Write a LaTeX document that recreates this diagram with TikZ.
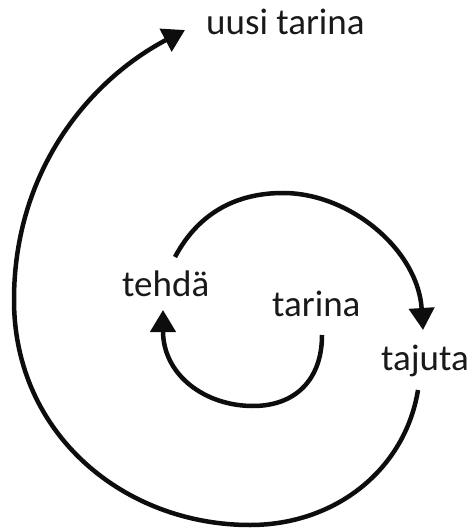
\documentclass[tikz,border=0pt]{standalone}
\usepackage{fontspec}
\setmainfont{Carlito}
\usetikzlibrary{arrows.meta}

\begin{document}
\begin{tikzpicture}[
  x=1pt, y=-1pt,
  word/.style={inner sep=0pt, anchor=base west, text=black!90,
               font=\fontsize{37}{40}\selectfont},
  loop/.style={line width=4.5pt, black!95,
               -{Triangle[length=22pt,width=25pt]}},
]
\useasboundingbox (0,0) rectangle (470,529);

% ---- sanat ----
\node[word] (uusi)   at (206,35)  {uusi tarina};
\node[word] (tehda)  at (122,296) {tehdä};
\node[word] (tarina) at (272,316) {tarina};
\node[word] (tajuta) at (381,370) {tajuta};

% ---- kaarien päät ----
\coordinate (tarina-out) at (322,335);
\coordinate (tehda-in)   at (163,310);
\coordinate (tehda-out)  at (175,257);
\coordinate (tajuta-in)  at (423,330);
\coordinate (tajuta-out) at (418,390);
\coordinate (uusi-in)    at (185,30);

% ---- spiraali ----
% sisin kaari
\draw[loop] (tarina-out) .. controls (322,380) and (295,406) .. (253,406)
  .. controls (205,406) and (163,375) .. (tehda-in);
% keskimmäinen kaari
\draw[loop] (tehda-out) .. controls (200,210) and (240,193) .. (283,193)
  .. controls (350,193) and (418,250) .. (tajuta-in);
% ulompi kaari
\draw[loop] (tajuta-out) .. controls (405,470) and (335,525) .. (250,525)
  .. controls (125,525) and (14,435) .. (14,300)
  .. controls (14,170) and (90,80) .. (uusi-in);

\end{tikzpicture}
\end{document}
